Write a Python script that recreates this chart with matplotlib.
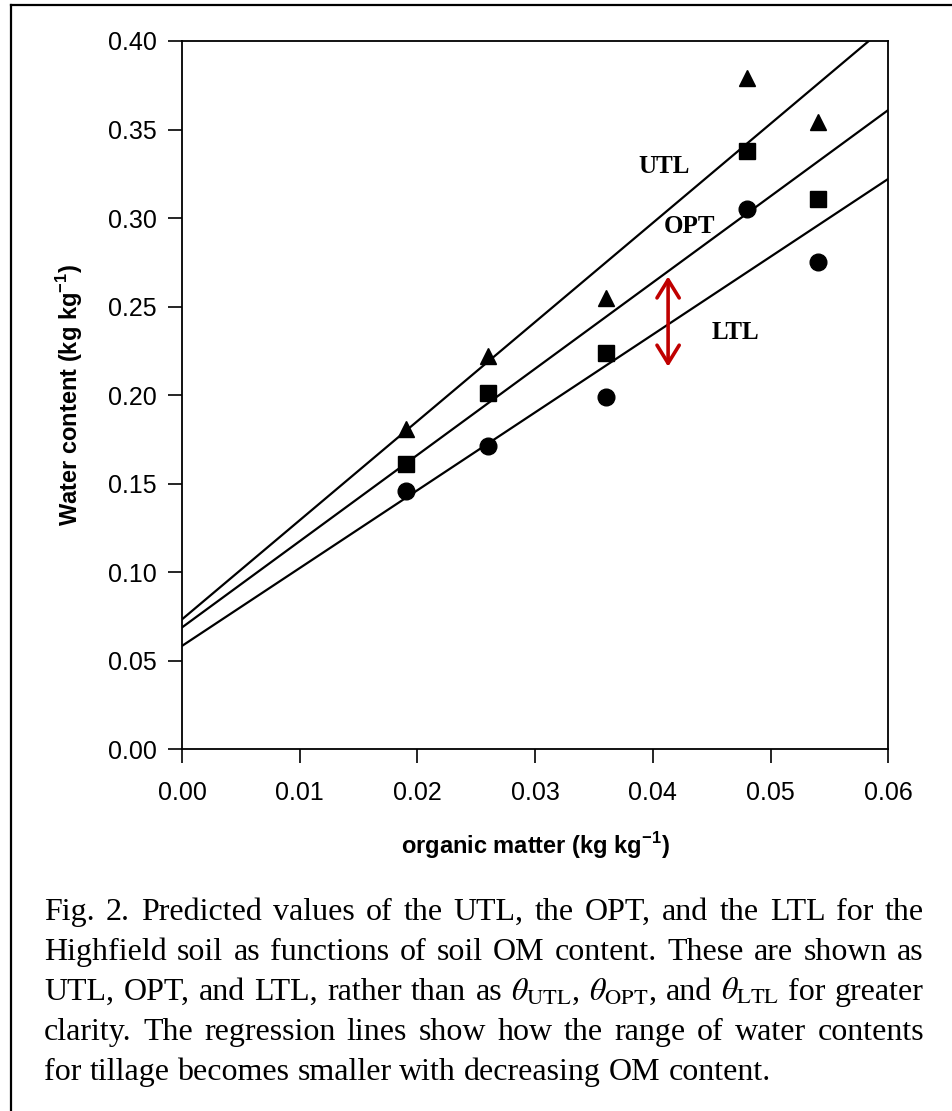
import numpy as np
import matplotlib
matplotlib.use("Agg")
import matplotlib.pyplot as plt
from matplotlib.lines import Line2D

plt.rcParams["font.family"] = ["Liberation Sans", "DejaVu Sans"]
plt.rcParams["mathtext.fontset"] = "custom"
plt.rcParams["mathtext.rm"] = "Liberation Sans"
plt.rcParams["mathtext.bf"] = "Liberation Sans:bold"

# data
om = [0.019, 0.026, 0.036, 0.048, 0.054]
utl = [0.181, 0.222, 0.255, 0.379, 0.354]
opt = [0.161, 0.201, 0.224, 0.338, 0.311]
ltl = [0.146, 0.171, 0.199, 0.305, 0.275]

x_ticks = [0.00, 0.01, 0.02, 0.03, 0.04, 0.05, 0.06]
y_ticks = [0.00, 0.05, 0.10, 0.15, 0.20, 0.25, 0.30, 0.35, 0.40]

caption = [
    "Fig. 2.  Predicted values of the UTL, the OPT, and the LTL for the",
    "Highfield soil as functions of soil OM content. These are shown as",
    r"UTL, OPT, and LTL, rather than as $\theta_\mathrm{UTL}$, $\theta_\mathrm{OPT}$, and $\theta_\mathrm{LTL}$ for greater",
    "clarity. The regression lines show how the range of water contents",
    "for tillage becomes smaller with decreasing OM content.",
]

fig = plt.figure(figsize=(9.53, 11.11), dpi=100)
ax = fig.add_axes([0.191, 0.3258, 0.741, 0.6373])

xx = np.array([0.0, 0.06])
for ys, marker in [(utl, "^"), (opt, "s"), (ltl, "o")]:
    slope, icpt = np.polyfit(om, ys, 1)
    ax.plot(xx, icpt + slope * xx, color="black", lw=1.6)
    ax.plot(om, ys, linestyle="none", marker=marker, color="black", markersize=12)

# line labels
serif = ["Liberation Serif", "DejaVu Serif"]
ax.text(0.0388, 0.329, "UTL", family=serif, fontweight="bold", fontsize=18, ha="left", va="center")
ax.text(0.0409, 0.295, "OPT", family=serif, fontweight="bold", fontsize=18, ha="left", va="center")
ax.text(0.0450, 0.2356, "LTL", family=serif, fontweight="bold", fontsize=18, ha="left", va="center")

# red double arrow
ax.annotate("", xy=(0.0413, 0.267), xytext=(0.0413, 0.216),
            arrowprops=dict(arrowstyle="<->,head_length=0.65,head_width=0.4", color="#c00000",
                            lw=2.6, mutation_scale=20, shrinkA=0, shrinkB=0))

ax.set_xlim(0, 0.06)
ax.set_ylim(0, 0.40)
ax.set_xticks(x_ticks)
ax.set_yticks(y_ticks)
ax.set_xticklabels([f"{v:.2f}" for v in x_ticks])
ax.set_yticklabels([f"{v:.2f}" for v in y_ticks])
ax.tick_params(axis="both", direction="out", length=10, width=1.2, labelsize=18)
ax.tick_params(axis="x", pad=13)
ax.tick_params(axis="y", pad=8)
for s in ax.spines.values():
    s.set_linewidth(1.3)

ax.set_xlabel(r"organic matter (kg kg$^{\mathbf{-1}}$)", fontsize=17, fontweight="bold")
ax.set_ylabel(r"Water content (kg kg$^{\mathbf{-1}}$)", fontsize=17, fontweight="bold")
ax.xaxis.set_label_coords(0.5, -0.114)
ax.yaxis.set_label_coords(-0.137, 0.5)

# caption, justified between x=44 and x=924 px (last line left aligned)
W, H = 953, 1111
left_px, right_px = 44, 924
renderer = fig.canvas.get_renderer()
for i, line in enumerate(caption):
    y = 1 - (920 + 40 * i) / H
    words = line.split()
    texts = [fig.text(0, y, w, family=serif, fontsize=23, ha="left", va="baseline",
                      math_fontfamily="stix") for w in words]
    widths = [t.get_window_extent(renderer).width for t in texts]
    if i < len(caption) - 1:
        gap = (right_px - left_px - sum(widths)) / (len(words) - 1)
    else:
        gap = texts[0].get_fontsize() * 0.25 * 100 / 72
    xpos = left_px
    for t, w in zip(texts, widths):
        t.set_x(xpos / W)
        xpos += w + gap

# page frame
fig.add_artist(Line2D([0.0115, 0.0115], [0.0, 0.9955], color="black", lw=1.6))
fig.add_artist(Line2D([0.0115, 1.0], [0.9955, 0.9955], color="black", lw=1.6))

fig.savefig("out.png", dpi=100)
